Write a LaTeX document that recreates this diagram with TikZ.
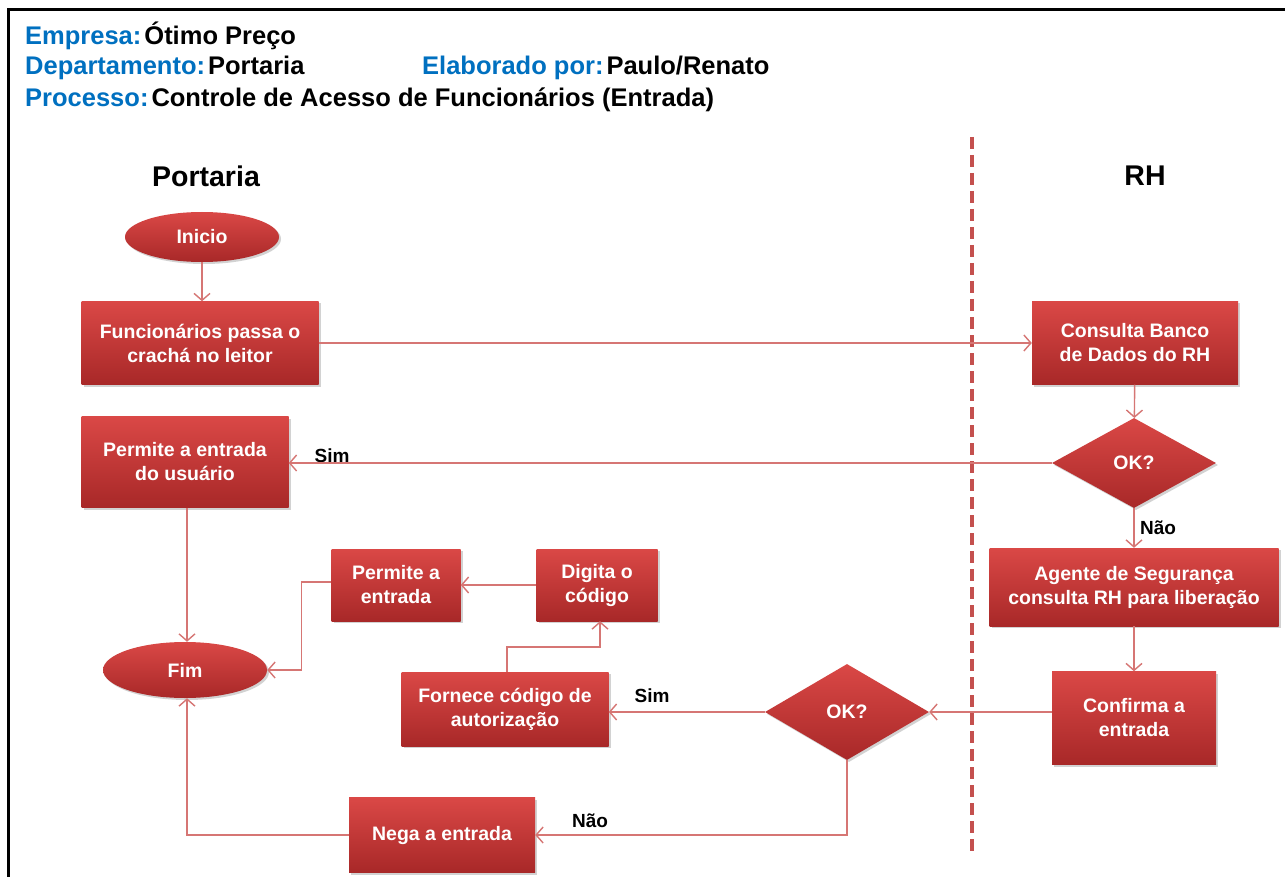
\documentclass[tikz,border=0pt]{standalone}
\usepackage{fontspec}
\setmainfont{Liberation Sans}
\usetikzlibrary{shapes.geometric,arrows.meta,shadows}
\definecolor{hdrblue}{RGB}{0,112,192}
\definecolor{boxtop}{RGB}{218,72,70}
\definecolor{boxbot}{RGB}{168,40,40}
\definecolor{conn}{RGB}{214,118,116}
\definecolor{lane}{RGB}{196,80,78}
\tikzset{
  proc/.style={rectangle, top color=boxtop, bottom color=boxbot, draw=none,
    drop shadow={opacity=0.35, shadow xshift=2pt, shadow yshift=-2pt},
    text=white, font=\fontsize{19.5}{24}\selectfont\bfseries, align=center, inner sep=0pt},
  term/.style={proc, ellipse},
  decide/.style={proc, diamond, minimum width=164pt, minimum height=90pt},
  flow/.style={draw=conn, line width=1.4pt, -{Straight Barb[length=7pt,width=16pt,line width=1.4pt]}},
  lbl/.style={font=\fontsize{19}{22}\selectfont\bfseries, text=black, inner sep=0pt},
  hdr/.style={font=\fontsize{25.5}{28}\selectfont\bfseries, anchor=west, inner sep=0pt},
  lanehead/.style={font=\fontsize{28.5}{32}\selectfont\bfseries, inner sep=0pt}
}
\newcommand{\hsep}{\hspace{3pt}}
\begin{document}
\begin{tikzpicture}[x=1pt,y=-1pt]
\useasboundingbox (0,0) rectangle (1285,877);
\fill[white] (0,0) rectangle (1285,877);
% frame
\draw[line width=3pt] (1285,10) -- (8,10) -- (8,877);
% header
\node[hdr] (h1) at (25,36) {\textcolor{hdrblue}{Empresa:}\hsep Ótimo Preço};
\node[hdr] (h2) at (25,68) {\textcolor{hdrblue}{Departamento:}\hsep Portaria};
\node[hdr] (h2b) at (422,68) {\textcolor{hdrblue}{Elaborado por:}\hsep Paulo/Renato};
\node[hdr] (h3) at (25,100) {\textcolor{hdrblue}{Processo:}\hsep Controle de Acesso de Funcionários (Entrada)};
% lanes
\node[lanehead] (portaria) at (206,176) {Portaria};
\node[lanehead] (rh) at (1145,176) {RH};
\coordinate (laneA) at (972,137);
\coordinate (laneB) at (972,852);
\draw[lane, line width=4pt, dash pattern=on 12pt off 6pt] (laneA) -- (laneB);
% nodes
\node[term, minimum width=154pt, minimum height=50pt] (inicio) at (202,237) {Inicio};
\node[proc, minimum width=237pt, minimum height=83pt] (func) at (200,343) {Funcionários passa o\\crachá no leitor};
\node[proc, minimum width=206pt, minimum height=83pt] (consulta) at (1135,343) {Consulta Banco\\de Dados do RH};
\node[decide] (ok1) at (1134,463) {OK?};
\node[proc, minimum width=207pt, minimum height=91pt] (permuser) at (185,462) {Permite a entrada\\do usuário};
\node[proc, minimum width=289pt, minimum height=78pt] (agente) at (1134,587) {Agente de Segurança\\consulta RH para liberação};
\node[proc, minimum width=164pt, minimum height=93pt] (confirma) at (1134,718) {Confirma a\\entrada};
\node[decide, minimum height=96pt] (ok2) at (847,712) {OK?};
\node[proc, minimum width=207pt, minimum height=74pt] (fornece) at (505,709) {Fornece código de\\autorização};
\node[proc, minimum width=121pt, minimum height=72pt] (digita) at (597,585) {Digita o\\código};
\node[proc, minimum width=129pt, minimum height=72pt] (permite) at (396,585) {Permite a\\entrada};
\node[term, minimum width=164pt, minimum height=56pt] (fim) at (185,670) {Fim};
\node[proc, minimum width=186pt, minimum height=75pt] (nega) at (442,835) {Nega a entrada};
% labels
\node[lbl] (sim1) at (332,456) {Sim};
\node[lbl] (nao1) at (1158,528) {Não};
\node[lbl] (sim2) at (652,696) {Sim};
\node[lbl] (nao2) at (590,821) {Não};
% connectors
\draw[flow] (inicio) -- (inicio |- func.north);
\draw[flow] (func.east) -- (consulta.west);
\draw[flow] (consulta) -- (ok1);
\draw[flow] (ok1.west) -- (ok1.west -| permuser.east);
\draw[flow] (ok1) -- (agente);
\draw[flow] (agente) -- (confirma);
\draw[flow] (confirma.west |- ok2.east) -- (ok2.east);
\draw[flow] (ok2.west) -- (ok2.west -| fornece.east);
\draw[flow] (ok2.south) -- (ok2.south |- nega.east) -- (nega.east);
\draw[flow] ([xshift=2pt]fornece.north) -- ++(0,-25) -| ([xshift=3pt]digita.south);
\draw[flow] (digita.west) -- (digita.west -| permite.east);
\draw[flow] ([yshift=3pt]permite.west) -- ++(-30,0) |- (fim.east);
\draw[flow] ([xshift=2pt]permuser.south) -- ([xshift=2pt]permuser.south |- fim.north);
\draw[flow] (nega.west) -| ([xshift=2pt]fim.south);
\end{tikzpicture}
\end{document}
